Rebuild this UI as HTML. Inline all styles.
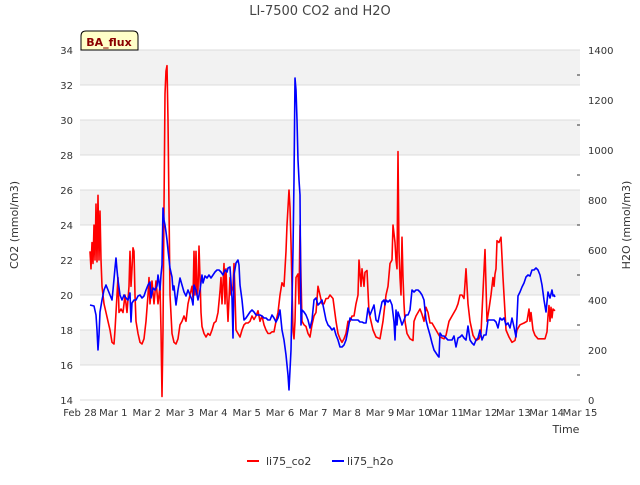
<!DOCTYPE html>
<html><head><meta charset="utf-8"><style>
body{margin:0;background:#fff;width:640px;height:480px;overflow:hidden;font-family:"Liberation Sans",sans-serif;}
svg text{font-family:"DejaVu Sans","Liberation Sans",sans-serif;}
</style></head><body>
<svg id="chart" width="640" height="480">
<text x="320" y="15" text-anchor="middle" font-size="13" fill="#444">LI-7500 CO2 and H2O</text>
<g id="bands"></g><g id="axes"></g><g id="series"></g>
<g>
<path d="M81,50 L81,36 Q81,31 86,31 L133,31 Q138,31 138,36 L138,50 Z" fill="#ffffc8" stroke="#000" stroke-width="1"/>
<text x="109" y="46" text-anchor="middle" font-size="11" font-weight="bold" fill="#8b0000">BA_flux</text></g>
<text transform="translate(18,225) rotate(-90)" text-anchor="middle" font-size="11" fill="#333">CO2 (mmol/m3)</text>
<text transform="translate(630,225) rotate(-90)" text-anchor="middle" font-size="11" fill="#333">H2O (mmol/m3)</text>
<text x="566" y="433" text-anchor="middle" font-size="11" fill="#333">Time</text>
<g>
<g><line x1="247" y1="461" x2="259" y2="461" stroke="red" stroke-width="2"/><text x="266" y="465" font-size="11" fill="#333">li75_co2</text></g>
<g><line x1="332" y1="461" x2="344" y2="461" stroke="blue" stroke-width="2"/><text x="347" y="465" font-size="11" fill="#333">li75_h2o</text></g>
</g>
</svg>
<script>
const xTickLabels=["Feb 28","Mar 1","Mar 2","Mar 3","Mar 4","Mar 5","Mar 6","Mar 7","Mar 8","Mar 9","Mar 10","Mar 11","Mar 12","Mar 13","Mar 14","Mar 15"];
const co2Ticks=[14,16,18,20,22,24,26,28,30,32,34];
const h2oTicks=[0,200,400,600,800,1000,1200,1400];
const co2T=[0.30,0.33,0.36,0.39,0.42,0.45,0.48,0.51,0.54,0.57,0.60,0.63,0.66,0.72,0.78,0.84,0.90,0.96,1.02,1.05,1.11,1.14,1.17,1.23,1.29,1.35,1.41,1.47,1.50,1.53,1.56,1.59,1.62,1.65,1.68,1.74,1.80,1.86,1.92,1.98,2.04,2.07,2.10,2.16,2.22,2.28,2.34,2.40,2.43,2.46,2.49,2.52,2.55,2.58,2.61,2.64,2.67,2.70,2.76,2.82,2.88,2.94,3.00,3.06,3.12,3.18,3.24,3.30,3.36,3.39,3.42,3.45,3.48,3.51,3.54,3.57,3.60,3.63,3.66,3.72,3.78,3.84,3.90,3.96,4.02,4.08,4.14,4.20,4.23,4.26,4.32,4.35,4.38,4.41,4.44,4.50,4.53,4.59,4.62,4.65,4.68,4.74,4.80,4.86,4.92,4.98,5.04,5.10,5.16,5.22,5.28,5.34,5.40,5.46,5.52,5.58,5.64,5.70,5.76,5.82,5.88,5.94,6.00,6.06,6.12,6.18,6.21,6.24,6.27,6.30,6.33,6.36,6.39,6.42,6.45,6.48,6.54,6.57,6.60,6.63,6.66,6.72,6.78,6.84,6.90,6.96,7.02,7.08,7.14,7.20,7.26,7.32,7.38,7.44,7.50,7.59,7.68,7.74,7.80,7.86,7.92,7.98,8.04,8.10,8.16,8.22,8.28,8.34,8.37,8.43,8.46,8.52,8.55,8.61,8.67,8.73,8.79,8.88,9.00,9.09,9.18,9.24,9.30,9.36,9.39,9.45,9.48,9.51,9.54,9.57,9.60,9.63,9.66,9.69,9.72,9.75,9.81,9.90,9.99,10.02,10.08,10.14,10.20,10.26,10.32,10.38,10.44,10.50,10.56,10.62,10.68,10.74,10.80,10.92,10.98,11.07,11.16,11.22,11.28,11.34,11.40,11.46,11.52,11.58,11.64,11.70,11.79,11.88,11.97,12.03,12.15,12.21,12.27,12.33,12.39,12.42,12.45,12.48,12.51,12.57,12.63,12.69,12.72,12.78,12.87,12.96,13.05,13.11,13.20,13.32,13.41,13.47,13.50,13.53,13.59,13.65,13.74,13.83,13.95,14.01,14.04,14.07,14.10,14.13,14.16,14.19,14.25];
const co2V=[22.5,21.5,23,21.8,24,22,25.2,21.9,25.7,22,24.8,22,20.5,19.5,19,18.5,18,17.3,17.2,18,20,21,19,19.2,19,20,19,20.5,22.5,20.5,21.5,22.7,22.5,20,18.5,17.8,17.3,17.2,17.5,18.5,20,21,19.5,20.8,19.5,20.8,19.5,20.5,18,14.2,18,25,31.5,32.8,33.1,30,25,20,17.8,17.3,17.2,17.5,18.3,18.5,18.8,18.5,19.5,20,20.5,19.8,22.5,20,22.5,20,20.3,22.8,21,19,18.2,17.8,17.6,17.8,17.7,18,18.4,18.5,19,20.2,21,19.5,21.8,19.5,21.5,19.8,18.5,21,20,20.5,21.8,20,18,17.8,17.6,18,18.3,18.4,18.4,18.5,18.8,18.6,18.8,19.1,18.5,18.8,18.3,18,17.8,17.8,17.9,17.9,18.5,19,20,20.7,20.5,22.5,24,25,26,25,23,20.5,18,17.5,18.5,21,21.2,19.5,24,21,18.5,18.3,18.2,17.8,17.6,18.3,18.8,19,20.5,20,19.5,19.5,19.8,19.8,20,19.8,18.5,17.8,17.5,17.3,17.5,17.8,18.5,18.5,18.8,18.8,19.5,20,22,20.5,21.5,20.5,21.3,21.4,19,18.5,18,17.6,17.5,18.5,20,20.5,21.8,22,24,23,22,21.5,28.2,22.5,21,20,23.3,21,19.5,18.5,17.8,17.5,17.4,18.5,18.8,19,19.2,18.9,18.5,19.3,19,18.4,18.4,18.2,18,17.8,17.6,17.5,17.7,18.5,18.8,19,19.2,19.5,20,20,19.8,21.5,19.5,18.5,17.7,17.4,17.5,17.8,22.6,18.5,19.2,20,21,20.5,21.2,21.5,23.1,23,23.3,21,20,18,17.6,17.3,17.4,18,18.3,18.4,18.5,19.2,18.5,19,18,17.7,17.5,17.5,17.5,17.9,18.8,19.4,18.5,19.3,18.7,19.2,19.1];
const h2oT=[0.30,0.42,0.48,0.51,0.54,0.57,0.60,0.66,0.72,0.78,0.84,0.90,0.96,0.99,1.05,1.08,1.11,1.14,1.20,1.26,1.32,1.38,1.44,1.50,1.53,1.56,1.62,1.68,1.74,1.80,1.86,1.92,1.98,2.04,2.10,2.13,2.19,2.25,2.31,2.34,2.37,2.40,2.43,2.46,2.49,2.52,2.55,2.58,2.61,2.64,2.70,2.76,2.79,2.82,2.88,2.94,3.00,3.06,3.12,3.18,3.24,3.30,3.36,3.39,3.42,3.48,3.54,3.60,3.66,3.69,3.75,3.81,3.87,3.93,3.99,4.05,4.11,4.17,4.23,4.29,4.35,4.41,4.44,4.50,4.56,4.59,4.62,4.68,4.74,4.77,4.80,4.86,4.92,4.98,5.04,5.10,5.16,5.22,5.28,5.34,5.40,5.46,5.52,5.58,5.64,5.70,5.76,5.82,5.88,5.94,6.00,6.06,6.12,6.18,6.24,6.27,6.30,6.33,6.36,6.39,6.42,6.45,6.48,6.51,6.54,6.57,6.60,6.63,6.66,6.72,6.78,6.84,6.90,6.96,7.02,7.08,7.14,7.20,7.26,7.32,7.38,7.44,7.50,7.56,7.62,7.68,7.74,7.80,7.86,7.92,7.98,8.04,8.10,8.16,8.22,8.28,8.34,8.40,8.46,8.52,8.58,8.64,8.70,8.76,8.82,8.88,8.94,9.00,9.06,9.12,9.15,9.18,9.24,9.30,9.36,9.42,9.45,9.48,9.51,9.54,9.60,9.66,9.72,9.78,9.84,9.90,9.96,10.02,10.08,10.14,10.20,10.26,10.32,10.38,10.44,10.50,10.56,10.62,10.68,10.74,10.77,10.80,10.86,10.92,10.98,11.04,11.10,11.16,11.22,11.28,11.34,11.40,11.46,11.52,11.58,11.64,11.70,11.76,11.82,11.88,11.94,12.00,12.06,12.12,12.18,12.24,12.30,12.36,12.42,12.48,12.54,12.60,12.66,12.72,12.78,12.84,12.90,12.96,13.02,13.08,13.11,13.14,13.20,13.26,13.32,13.38,13.44,13.50,13.56,13.62,13.68,13.74,13.80,13.86,13.92,13.98,14.04,14.10,14.16,14.19,14.22,14.25];
const h2oV=[380,376,340,280,200,260,352,400,440,460,440,420,400,440,528,568,520,480,420,400,420,408,400,428,312,388,400,400,416,420,408,416,440,460,472,408,448,440,456,500,472,440,500,540,768,720,700,672,640,600,528,492,440,456,380,440,488,460,432,416,440,420,400,380,460,440,400,440,500,468,496,488,500,488,500,512,520,520,512,500,520,512,528,532,408,248,500,548,560,540,460,400,320,328,340,352,360,352,340,340,340,336,328,328,320,320,340,328,312,328,360,280,240,180,100,40,120,200,400,600,880,1288,1240,1120,960,880,820,300,360,352,340,320,288,320,400,408,380,388,400,360,320,300,292,280,288,260,240,212,212,220,240,280,328,320,320,320,320,312,312,308,308,368,340,360,380,320,312,352,392,400,380,400,392,400,380,312,240,360,300,352,328,300,320,340,340,360,440,432,440,440,432,420,400,320,288,260,228,200,188,176,172,268,256,256,248,240,240,240,256,212,248,252,260,248,240,296,240,228,220,240,248,280,240,260,260,320,320,320,320,312,288,328,320,328,300,308,288,328,292,252,328,416,432,452,468,492,500,496,520,520,528,520,500,460,400,352,432,408,440,416,420,412];

const NS="http://www.w3.org/2000/svg";
const L=80,R=580,T=50,B=400;
const xS=t=>L+(R-L)*t/15;
const yL=v=>B-(B-T)*(v-14)/20;
const yR=v=>B-(B-T)*v/1400;
function mk(tag,attrs,parent){const e=document.createElementNS(NS,tag);for(const k in attrs)e.setAttribute(k,attrs[k]);parent.appendChild(e);return e;}
const bands=document.getElementById('bands'),axes=document.getElementById('axes'),series=document.getElementById('series');
for(let i=0;i<co2Ticks.length-1;i++){
  if(i%2===1){const r=mk('rect',{x:L,y:yL(co2Ticks[i+1]),width:R-L,height:yL(co2Ticks[i])-yL(co2Ticks[i+1]),fill:'#f2f2f2'},bands);
  
  }
}
co2Ticks.forEach(v=>{
  const g=mk('line',{x1:L,x2:R,y1:yL(v),y2:yL(v),stroke:'#dcdcdc','stroke-width':1},bands);
  
  
  const t=mk('text',{x:L-7,y:yL(v)+4,'text-anchor':'end','font-size':10,fill:'#333'},axes);t.textContent=v;
  
  
});
h2oTicks.forEach(v=>{
  const t=mk('text',{x:R+8,y:yR(v)+4,'font-size':10,fill:'#333'},axes);t.textContent=v;
  
  
});
for(let v=100;v<1400;v+=200){const tk=mk('line',{x1:R-3,x2:R,y1:yR(v),y2:yR(v),stroke:'#333'},axes);
  
  }
xTickLabels.forEach((lab,i)=>{
  const t=mk('text',{x:xS(i),y:416,'text-anchor':'middle','font-size':10,fill:'#333'},axes);t.textContent=lab;
  
  
});
function line(ts,vs,ys,color,name){
  const d=ts.map((t,i)=>(i?'L':'M')+xS(t).toFixed(1)+','+ys(vs[i]).toFixed(1)).join('');
  const p=mk('path',{d:d,fill:'none',stroke:color,'stroke-width':1.6,'stroke-linejoin':'round'},series);
  
  
}
line(co2T,co2V,yL,'red','co2-line');
line(h2oT,h2oV,yR,'blue','h2o-line');
</script>
</body></html>
